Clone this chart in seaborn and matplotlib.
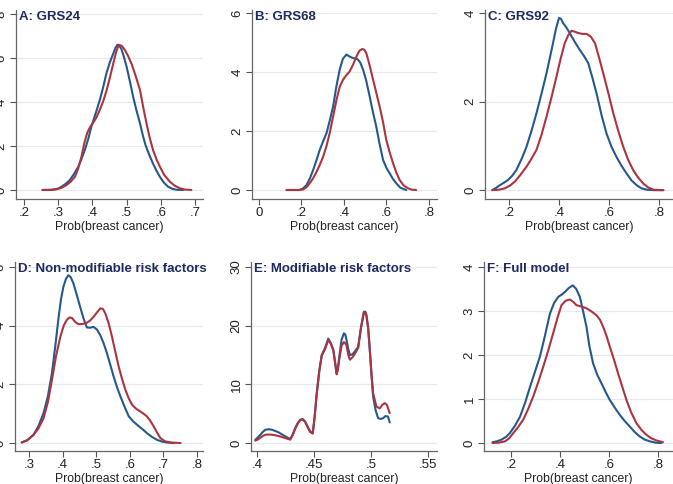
import numpy as np
import pandas as pd
import matplotlib
matplotlib.use("Agg")
import matplotlib.pyplot as plt
import seaborn as sns

sns.set_theme(style="white")
plt.rcParams['font.family'] = ['Liberation Sans', 'DejaVu Sans']

# density curves (x = predicted probability, y = density)
# blue = first group, red = second group
a_blue_x = [0.254, 0.28, 0.30, 0.31, 0.322, 0.334, 0.346, 0.359, 0.368, 0.378, 0.388, 0.397, 0.41, 0.422, 0.432, 0.441, 0.451, 0.461, 0.467, 0.473, 0.479, 0.485, 0.492, 0.5, 0.51, 0.519, 0.529, 0.539, 0.547, 0.555, 0.566, 0.577, 0.587, 0.597, 0.609, 0.621, 0.634, 0.646, 0.665]
a_blue_y = [0, 0, 0.06, 0.15, 0.28, 0.45, 0.72, 1.06, 1.4, 1.82, 2.32, 2.88, 3.5, 4.1, 4.7, 5.3, 5.8, 6.2, 6.45, 6.6, 6.55, 6.4, 6.05, 5.6, 4.9, 4.24, 3.6, 3.03, 2.5, 2.05, 1.6, 1.2, 0.88, 0.6, 0.33, 0.15, 0.05, 0.01, 0]
a_red_x = [0.255, 0.28, 0.295, 0.31, 0.325, 0.337, 0.349, 0.358, 0.368, 0.376, 0.385, 0.393, 0.402, 0.412, 0.422, 0.432, 0.441, 0.451, 0.461, 0.469, 0.477, 0.486, 0.495, 0.504, 0.514, 0.526, 0.539, 0.548, 0.558, 0.567, 0.577, 0.587, 0.597, 0.61, 0.626, 0.64, 0.655, 0.67, 0.689]
a_red_y = [0, 0.01, 0.03, 0.1, 0.23, 0.38, 0.6, 0.95, 1.5, 2.1, 2.6, 2.85, 3.05, 3.3, 3.65, 4.05, 4.5, 5.1, 5.75, 6.25, 6.6, 6.55, 6.36, 6.1, 5.75, 5.2, 4.55, 3.8, 3.03, 2.4, 1.82, 1.4, 1.06, 0.68, 0.38, 0.2, 0.08, 0.02, 0]

b_blue_x = [0.13, 0.19, 0.207, 0.224, 0.24, 0.255, 0.27, 0.286, 0.302, 0.318, 0.333, 0.349, 0.364, 0.38, 0.395, 0.412, 0.427, 0.443, 0.455, 0.466, 0.478, 0.49, 0.505, 0.521, 0.536, 0.552, 0.568, 0.584, 0.6, 0.615, 0.63, 0.646, 0.665, 0.693]
b_blue_y = [0, 0, 0.05, 0.17, 0.4, 0.68, 1.0, 1.36, 1.65, 1.93, 2.35, 2.83, 3.5, 4.08, 4.45, 4.59, 4.52, 4.47, 4.46, 4.42, 4.3, 4.08, 3.7, 3.17, 2.65, 2.15, 1.55, 1.02, 0.75, 0.57, 0.38, 0.23, 0.08, 0]
b_red_x = [0.13, 0.19, 0.208, 0.224, 0.239, 0.255, 0.271, 0.286, 0.302, 0.318, 0.333, 0.349, 0.365, 0.38, 0.396, 0.41, 0.427, 0.443, 0.459, 0.473, 0.487, 0.496, 0.505, 0.52, 0.537, 0.552, 0.568, 0.584, 0.599, 0.615, 0.631, 0.646, 0.662, 0.68, 0.701, 0.72, 0.74]
b_red_y = [0, 0, 0.02, 0.1, 0.23, 0.4, 0.62, 0.85, 1.13, 1.5, 1.93, 2.5, 3.06, 3.5, 3.74, 3.88, 4.02, 4.25, 4.53, 4.72, 4.78, 4.75, 4.64, 4.25, 3.74, 3.3, 2.83, 2.3, 1.7, 1.28, 0.91, 0.6, 0.34, 0.16, 0.06, 0.01, 0]

c_blue_x = [0.133, 0.148, 0.163, 0.18, 0.196, 0.212, 0.229, 0.25, 0.27, 0.29, 0.31, 0.33, 0.35, 0.363, 0.376, 0.388, 0.4, 0.408, 0.417, 0.43, 0.443, 0.463, 0.483, 0.5, 0.517, 0.533, 0.55, 0.57, 0.59, 0.61, 0.63, 0.65, 0.67, 0.69, 0.711, 0.73, 0.751, 0.78, 0.818]
c_blue_y = [0, 0.05, 0.11, 0.17, 0.23, 0.32, 0.45, 0.7, 0.98, 1.34, 1.74, 2.18, 2.64, 2.98, 3.32, 3.65, 3.89, 3.87, 3.77, 3.67, 3.55, 3.35, 3.17, 3.03, 2.87, 2.55, 2.19, 1.7, 1.28, 0.98, 0.75, 0.55, 0.38, 0.22, 0.11, 0.04, 0.01, 0, 0]
c_red_x = [0.133, 0.16, 0.183, 0.203, 0.223, 0.245, 0.27, 0.29, 0.31, 0.33, 0.35, 0.37, 0.39, 0.407, 0.423, 0.437, 0.45, 0.463, 0.477, 0.493, 0.51, 0.527, 0.544, 0.56, 0.577, 0.597, 0.617, 0.637, 0.657, 0.677, 0.697, 0.717, 0.737, 0.757, 0.778, 0.815]
c_red_y = [0, 0.01, 0.04, 0.1, 0.19, 0.34, 0.53, 0.71, 0.91, 1.25, 1.66, 2.1, 2.57, 2.98, 3.32, 3.5, 3.6, 3.58, 3.55, 3.53, 3.53, 3.47, 3.32, 3.0, 2.64, 2.2, 1.74, 1.34, 0.98, 0.68, 0.45, 0.28, 0.15, 0.06, 0.01, 0]

d_blue_x = [0.278, 0.295, 0.313, 0.328, 0.343, 0.356, 0.368, 0.378, 0.388, 0.395, 0.402, 0.41, 0.417, 0.424, 0.432, 0.442, 0.452, 0.462, 0.472, 0.482, 0.492, 0.502, 0.512, 0.522, 0.532, 0.542, 0.552, 0.562, 0.572, 0.585, 0.597, 0.61, 0.622, 0.637, 0.651, 0.666, 0.681, 0.696, 0.711, 0.731]
d_blue_y = [0.02, 0.1, 0.28, 0.58, 1.02, 1.6, 2.38, 3.3, 4.3, 4.9, 5.32, 5.6, 5.72, 5.65, 5.44, 5.05, 4.64, 4.25, 3.94, 3.93, 3.96, 3.87, 3.68, 3.4, 3.06, 2.66, 2.26, 1.9, 1.59, 1.22, 0.91, 0.74, 0.62, 0.48, 0.34, 0.21, 0.11, 0.05, 0.02, 0]
d_red_x = [0.278, 0.295, 0.313, 0.328, 0.343, 0.356, 0.368, 0.38, 0.393, 0.403, 0.412, 0.42, 0.428, 0.437, 0.447, 0.46, 0.472, 0.482, 0.492, 0.502, 0.512, 0.52, 0.527, 0.537, 0.547, 0.557, 0.567, 0.577, 0.587, 0.597, 0.607, 0.62, 0.631, 0.641, 0.651, 0.661, 0.671, 0.681, 0.691, 0.705, 0.721, 0.751]
d_red_y = [0.02, 0.1, 0.28, 0.5, 0.85, 1.4, 2.15, 2.95, 3.62, 4.0, 4.19, 4.28, 4.26, 4.13, 4.05, 4.06, 4.1, 4.18, 4.3, 4.45, 4.59, 4.57, 4.42, 4.08, 3.62, 3.1, 2.6, 2.18, 1.81, 1.52, 1.3, 1.16, 1.08, 1.0, 0.91, 0.76, 0.57, 0.36, 0.17, 0.06, 0.02, 0]

e_blue_x = [0.3985, 0.4007, 0.4029, 0.4051, 0.4073, 0.41, 0.4131, 0.416, 0.419, 0.422, 0.4248, 0.4291, 0.4312, 0.4335, 0.4357, 0.4379, 0.44, 0.4422, 0.4444, 0.4466, 0.4489, 0.4506, 0.4524, 0.4546, 0.4568, 0.4597, 0.4626, 0.4648, 0.467, 0.4699, 0.471, 0.4722, 0.4742, 0.4763, 0.4775, 0.4786, 0.4801, 0.4816, 0.4837, 0.4859, 0.4888, 0.4913, 0.4938, 0.495, 0.4961, 0.4976, 0.499, 0.5005, 0.5019, 0.5041, 0.5063, 0.5085, 0.5107, 0.5128, 0.515, 0.5165]
e_blue_y = [0.57, 0.95, 1.41, 1.9, 2.26, 2.35, 2.26, 2.05, 1.81, 1.45, 1.13, 0.68, 1.4, 2.55, 3.4, 3.96, 4.1, 3.68, 2.8, 1.98, 1.7, 4.6, 8.49, 12.3, 15.0, 16.2, 17.8, 17.0, 15.85, 11.9, 12.8, 14.7, 17.6, 18.7, 18.5, 17.5, 16.0, 15.0, 15.1, 15.6, 16.4, 19.8, 22.35, 22.4, 21.8, 19.6, 15.85, 11.5, 7.92, 5.6, 4.24, 4.1, 4.24, 4.6, 4.5, 3.5]
e_red_x = [0.3985, 0.4007, 0.4029, 0.4051, 0.4073, 0.41, 0.4131, 0.416, 0.419, 0.422, 0.4248, 0.4291, 0.4312, 0.4335, 0.4357, 0.4379, 0.44, 0.4422, 0.4444, 0.4466, 0.4489, 0.4506, 0.4524, 0.4546, 0.4568, 0.4597, 0.4626, 0.4648, 0.467, 0.4699, 0.471, 0.4722, 0.4742, 0.4763, 0.4775, 0.4786, 0.4801, 0.4816, 0.4837, 0.4859, 0.4888, 0.4913, 0.4938, 0.495, 0.4961, 0.4976, 0.499, 0.5005, 0.5019, 0.5048, 0.5077, 0.51, 0.5121, 0.514, 0.5165]
e_red_y = [0.4, 0.6, 0.9, 1.2, 1.41, 1.45, 1.41, 1.32, 1.2, 1.0, 0.85, 0.57, 1.3, 2.4, 3.3, 3.9, 4.0, 3.6, 2.7, 1.9, 1.6, 4.4, 8.3, 12.1, 14.9, 16.0, 17.6, 16.9, 15.8, 11.7, 12.5, 14.3, 16.6, 17.2, 17.0, 16.6, 15.0, 14.2, 14.6, 15.2, 16.2, 19.6, 22.2, 22.3, 21.6, 19.4, 15.9, 11.8, 8.5, 6.2, 5.9, 6.5, 6.8, 6.5, 5.1]

f_blue_x = [0.125, 0.143, 0.162, 0.18, 0.196, 0.217, 0.237, 0.258, 0.278, 0.298, 0.318, 0.338, 0.359, 0.376, 0.393, 0.407, 0.42, 0.436, 0.452, 0.466, 0.481, 0.494, 0.508, 0.52, 0.535, 0.552, 0.569, 0.586, 0.603, 0.624, 0.644, 0.664, 0.684, 0.705, 0.725, 0.745, 0.766, 0.79, 0.813]
f_blue_y = [0.02, 0.04, 0.08, 0.14, 0.23, 0.4, 0.6, 0.92, 1.28, 1.62, 1.96, 2.42, 2.94, 3.18, 3.32, 3.37, 3.43, 3.52, 3.58, 3.5, 3.32, 3.0, 2.64, 2.2, 1.81, 1.55, 1.36, 1.16, 0.98, 0.8, 0.64, 0.5, 0.38, 0.25, 0.15, 0.08, 0.04, 0.01, 0]
f_red_x = [0.125, 0.15, 0.176, 0.193, 0.21, 0.23, 0.25, 0.27, 0.291, 0.311, 0.332, 0.352, 0.372, 0.39, 0.406, 0.423, 0.44, 0.453, 0.467, 0.487, 0.508, 0.528, 0.549, 0.563, 0.576, 0.59, 0.603, 0.62, 0.637, 0.654, 0.671, 0.69, 0.712, 0.732, 0.752, 0.772, 0.793, 0.82]
f_red_y = [0, 0.01, 0.04, 0.11, 0.23, 0.37, 0.53, 0.77, 1.06, 1.38, 1.74, 2.1, 2.49, 2.85, 3.13, 3.23, 3.26, 3.21, 3.13, 3.1, 3.06, 2.99, 2.9, 2.8, 2.64, 2.43, 2.19, 1.9, 1.58, 1.28, 0.98, 0.7, 0.45, 0.3, 0.19, 0.11, 0.06, 0.02]

titles = ["A: GRS24", "B: GRS68", "C: GRS92",
          "D: Non-modifiable risk factors", "E: Modifiable risk factors", "F: Full model"]
x_ticks = [[0.2, 0.3, 0.4, 0.5, 0.6, 0.7], [0, 0.2, 0.4, 0.6, 0.8], [0.2, 0.4, 0.6, 0.8],
           [0.3, 0.4, 0.5, 0.6, 0.7, 0.8], [0.4, 0.45, 0.5, 0.55], [0.2, 0.4, 0.6, 0.8]]
x_labels = [[".2", ".3", ".4", ".5", ".6", ".7"], ["0", ".2", ".4", ".6", ".8"], [".2", ".4", ".6", ".8"],
            [".3", ".4", ".5", ".6", ".7", ".8"], [".4", ".45", ".5", ".55"], [".2", ".4", ".6", ".8"]]
y_ticks = [[0, 2, 4, 6, 8], [0, 2, 4, 6], [0, 2, 4],
           [0, 2, 4, 6], [0, 10, 20, 30], [0, 1, 2, 3, 4]]

curves = [
    (a_blue_x, a_blue_y, a_red_x, a_red_y),
    (b_blue_x, b_blue_y, b_red_x, b_red_y),
    (c_blue_x, c_blue_y, c_red_x, c_red_y),
    (d_blue_x, d_blue_y, d_red_x, d_red_y),
    (e_blue_x, e_blue_y, e_red_x, e_red_y),
    (f_blue_x, f_blue_y, f_red_x, f_red_y),
]

# layout in pixels (left, right, top, bottom) and axis limits
W, H = 673, 484
boxes = [(16, 203, 10, 199), (252, 437, 10, 199), (485, 673, 10, 199),
         (15, 203, 262, 451), (251, 437, 262, 451), (484, 673, 262, 451)]
xlims = [(0.177, 0.723), (-0.033, 0.838), (0.104, 0.856),
         (0.258, 0.818), (0.3947, 0.558), (0.09, 0.861)]
ylims = [(-0.41, 8.18), (-0.305, 6.1), (-0.2, 4.07),
         (-0.27, 6.17), (-1.36, 30.85), (-0.18, 4.11)]

blue = "#25598c"
red = "#ab3441"
navy = "#1f2b5e"

fig = plt.figure(figsize=(W / 100, H / 100), dpi=100)

for i in range(6):
    l, r, t, b = boxes[i]
    ax = fig.add_axes([l / W, (H - b) / H, (r - l) / W, (b - t) / H])
    bx, by, rx, ry = curves[i]
    for yt in y_ticks[i]:
        ax.axhline(yt, color="#e6eaee", lw=0.9, zorder=0)
    sns.lineplot(x=bx, y=by, ax=ax, color=blue, lw=1.5, sort=False, estimator=None,
                 solid_joinstyle="round")
    sns.lineplot(x=rx, y=ry, ax=ax, color=red, lw=1.5, sort=False, estimator=None,
                 solid_joinstyle="round")
    ax.set_xlim(*xlims[i])
    ax.set_ylim(*ylims[i])
    ax.set_xticks(x_ticks[i])
    ax.set_xticklabels(x_labels[i])
    ax.set_yticks(y_ticks[i])
    ax.set_yticklabels([str(v) for v in y_ticks[i]], rotation=90, va="center")
    ax.tick_params(axis="both", length=4, width=0.8, color="#555555",
                   labelsize=9.5, labelcolor="#222222", pad=2, direction="out")
    ax.tick_params(axis="x", bottom=True)
    ax.tick_params(axis="y", left=True)
    for s in ["top", "right"]:
        ax.spines[s].set_visible(False)
    for s in ["left", "bottom"]:
        ax.spines[s].set_color("#666666")
        ax.spines[s].set_linewidth(0.9)
    ax.set_xlabel("Prob(breast cancer)", fontsize=8.8, color="#222222", labelpad=1)
    ax.set_ylabel("")
    ax.text(0.015, 0.995, titles[i], transform=ax.transAxes, ha="left", va="top",
            fontsize=9.5, fontweight="bold", color=navy)
    ax.set_facecolor("white")

fig.savefig("out.png", dpi=100, facecolor="white")
